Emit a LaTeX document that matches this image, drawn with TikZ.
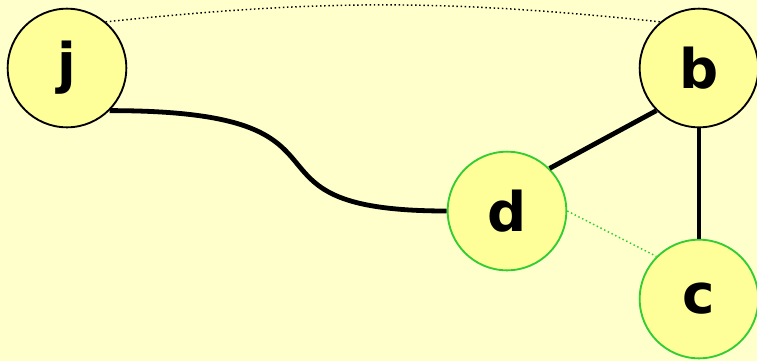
\documentclass[tikz,border=0pt]{standalone}
\usepackage{fontspec}
\setmainfont{DejaVu Sans}
\usepackage{tikz}

\definecolor{bgyellow}{HTML}{FFFFCC}
\definecolor{nodeyellow}{HTML}{FFFF99}
\definecolor{ringgreen}{HTML}{33CC33}

\tikzset{
    vertex/.style={circle, draw=black, line width=1.4pt, fill=nodeyellow,
        minimum size=89pt, inner sep=0pt,
        font=\fontsize{41}{41}\selectfont\bfseries},
    greenvertex/.style={vertex, draw=ringgreen},
    heavy/.style={line width=3.6pt},
    faint/.style={line width=1.1pt, dotted},
}

\begin{document}
\begin{tikzpicture}[x=0.75pt, y=-0.75pt]
    % --- Fond ---
    \fill[bgyellow] (0,0) rectangle (757,361);
    \useasboundingbox (0,0) rectangle (757,361);

    % --- Sommets ---
    \node[vertex] (j) at (67,68) {j};
    \node[vertex] (b) at (699,68) {b};
    \node[greenvertex] (d) at (507,211) {d};
    \node[greenvertex] (c) at (699,299) {c};

    % --- Aretes ---
    \draw[faint] (j.50) to[out=6, in=174] (b.130);
    \draw[heavy] (j.south east) .. controls +(275,0) and +(-231,0) .. (d.west);
    \draw[heavy] (b.south west) -- (d.north east);
    \draw[heavy] (b) -- (c);
    \draw[faint, ringgreen] (d.east) -- (c.north west);

\end{tikzpicture}
\end{document}
